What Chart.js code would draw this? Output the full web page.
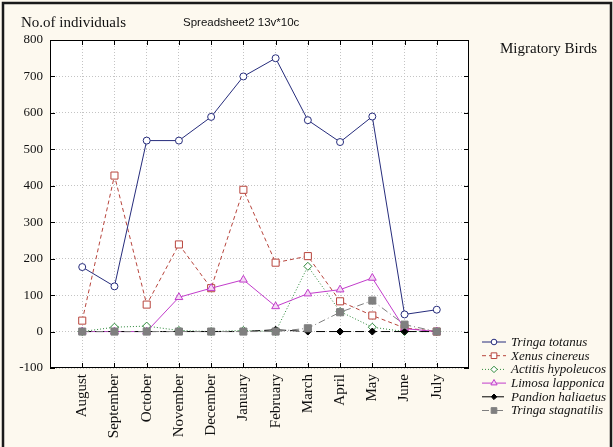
<!DOCTYPE html>
<html><head><meta charset="utf-8">
<script src="https://cdn.jsdelivr.net/npm/chart.js@4"></script>
<style>html,body{margin:0;padding:0;background:#fdf9ef;}#c{display:block;}</style>
</head><body>
<canvas id="c" width="613" height="447" style="width:613px;height:447px"></canvas>
<script>
const months = ['August','September','October','November','December','January','February','March','April','May','June','July'];
const yMin = -100, yMax = 800, yStep = 100;
const seriesNames = ['Tringa totanus','Xenus cinereus','Actitis hypoleucos','Limosa lapponica','Pandion haliaetus','Tringa stagnatilis'];
const tringaTotanus     = [177,124,524,524,589,700,750,580,520,590,47,60];
const xenusCinereus     = [30,428,74,239,119,389,189,207,83,44,10,0];
const actitisHypoleucos = [0,12,15,3,0,3,0,179,55,12,0,0];
const limosaLapponica   = [0,0,0,94,119,142,69,104,115,147,8,0];
const pandionHaliaetus  = [0,0,0,0,0,0,5,0,0,0,0,0];
const tringaStagnatilis = [0,0,0,0,0,0,0,9,53,85,19,0];

const SERIF = "'Liberation Serif','Times New Roman',serif";
const SANS = "'Liberation Sans',Arial,sans-serif";
const toXY = arr => arr.map((v,i)=>({x:i,y:v}));

const styles = [
  {color:'#262c7c', dash:[], ps:'circle', r:3.5, bg:'#ffffff', order:2},
  {color:'#b8453d', dash:[4,3], ps:'rect', r:5, bg:'#ffffff', order:4},
  {color:'#2f8a3c', dash:[1,2], ps:'rectRot', r:4, bg:'#ffffff', order:5},
  {color:'#c23ccb', dash:[], ps:'triangle', r:4.5, bg:'#f4d8f4', order:3},
  {color:'#000000', dash:[9,4], ps:'rectRot', r:3.5, bg:'#000000', order:1},
  {color:'#7f7f7f', dash:[7,3,1,3], ps:'rect', r:5, bg:'#7f7f7f', order:0}
];
const values = [tringaTotanus,xenusCinereus,actitisHypoleucos,limosaLapponica,pandionHaliaetus,tringaStagnatilis];

const datasets = values.map((v,i)=>({
  label: seriesNames[i],
  data: toXY(v),
  borderColor: styles[i].color,
  backgroundColor: styles[i].bg,
  borderDash: styles[i].dash,
  borderWidth: 1,
  pointStyle: styles[i].ps,
  pointRadius: styles[i].r,
  pointHoverRadius: styles[i].r,
  pointBorderColor: styles[i].color,
  pointBackgroundColor: styles[i].bg,
  pointBorderWidth: 1,
  tension: 0,
  order: styles[i].order
}));

const deco = {
  id:'deco',
  beforeDraw(chart){
    const ctx = chart.ctx, a = chart.chartArea;
    ctx.save();
    ctx.fillStyle = '#fdf9ef';
    ctx.fillRect(0,0,chart.width,chart.height);
    ctx.fillStyle = '#ffffff';
    ctx.fillRect(a.left,a.top,a.right-a.left,a.bottom-a.top);
    ctx.restore();
  },
  afterDraw(chart){
    const ctx = chart.ctx, a = chart.chartArea;
    ctx.save();
    ctx.strokeStyle = '#1a1a1a';
    ctx.lineWidth = 2.5;
    ctx.beginPath();
    ctx.moveTo(3, chart.height); ctx.lineTo(3,3); ctx.lineTo(611,3); ctx.lineTo(611,chart.height);
    ctx.stroke();
    ctx.strokeStyle = '#000';
    ctx.lineWidth = 1;
    ctx.setLineDash([]);
    ctx.strokeRect(a.left+0.5,a.top+0.5,a.right-a.left-1,a.bottom-a.top-1);
    const xs = chart.scales.x;
    ctx.beginPath();
    months.forEach((m,i)=>{
      const px = Math.round(xs.getPixelForValue(i))+0.5;
      ctx.moveTo(px,a.bottom); ctx.lineTo(px,a.bottom-5);
      ctx.moveTo(px,a.top); ctx.lineTo(px,a.top+5);
    });
    const ys = chart.scales.y;
    for(let v=yMin; v<=yMax; v+=yStep){
      const py = Math.round(ys.getPixelForValue(v))+0.5;
      ctx.moveTo(a.left,py); ctx.lineTo(a.left+5,py);
      ctx.moveTo(a.right,py); ctx.lineTo(a.right-5,py);
    }
    ctx.stroke();
    ctx.fillStyle = '#111';
    ctx.textBaseline = 'alphabetic';
    ctx.textAlign = 'left';
    ctx.font = '15px ' + SERIF;
    ctx.fillText('No.of individuals', 21, 27);
    ctx.font = '11.5px ' + SANS;
    ctx.fillText('Spreadsheet2 13v*10c', 183, 26);
    ctx.font = '15px ' + SERIF;
    ctx.fillText('Migratory Birds', 500, 53);
    const x0 = 482, x1 = 506, xm = 494;
    seriesNames.forEach((name,i)=>{
      const y = 342 + i*13.7;
      const s = styles[i];
      ctx.save();
      ctx.strokeStyle = s.color;
      ctx.lineWidth = 1;
      ctx.setLineDash(s.dash);
      ctx.beginPath(); ctx.moveTo(x0,y); ctx.lineTo(x1,y); ctx.stroke();
      ctx.setLineDash([]);
      ctx.fillStyle = s.bg;
      Chart.helpers.drawPoint(ctx,{pointStyle:s.ps, radius:s.r*0.8, rotation:0, borderWidth:1}, xm, y);
      ctx.restore();
      ctx.fillStyle = '#111';
      ctx.font = 'italic 13px ' + SERIF;
      ctx.textBaseline = 'middle';
      ctx.fillText(name, 511, y+0.5);
    });
    ctx.restore();
  }
};

new Chart(document.getElementById('c'), {
  type:'line',
  data:{datasets},
  options:{
    responsive:false,
    animation:false,
    devicePixelRatio:1,
    layout:{padding:{left:0,top:40,right:144,bottom:0}},
    plugins:{legend:{display:false},tooltip:{enabled:false},title:{display:false}},
    scales:{
      x:{
        type:'linear', min:-1, max:12,
        afterBuildTicks(s){ s.ticks = months.map((m,i)=>({value:i})); },
        afterFit(s){ s.height = 79; },
        grid:{color:'#c4c4c4', lineWidth:1, drawTicks:false},
        border:{display:false, dash:[1,2]},
        ticks:{
          autoSkip:false, minRotation:90, maxRotation:90, padding:6,
          color:'#111', font:{family:SERIF, size:15},
          callback:(v)=> months[v] !== undefined ? months[v] : ''
        }
      },
      y:{
        min:yMin, max:yMax,
        afterFit(s){ s.width = 50; },
        grid:{color:'#c4c4c4', lineWidth:1, drawTicks:false},
        border:{display:false, dash:[1,2]},
        ticks:{stepSize:yStep, padding:7, color:'#111', font:{family:SERIF, size:13}}
      }
    }
  },
  plugins:[deco]
});
</script>
</body></html>
